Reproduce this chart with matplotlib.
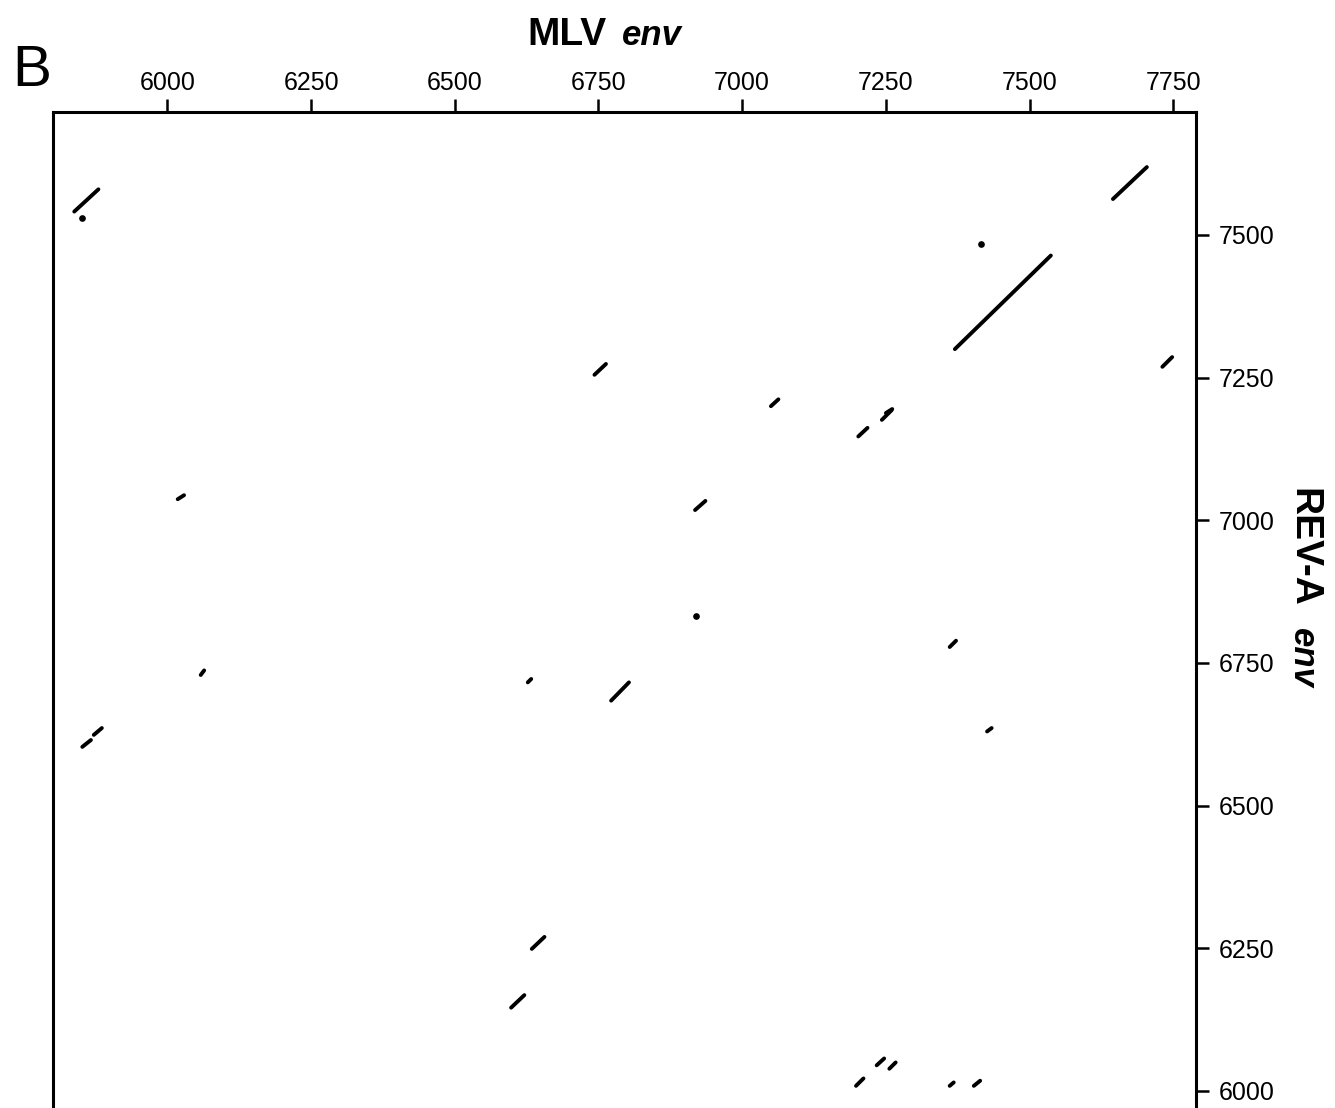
import matplotlib
matplotlib.use("Agg")
import matplotlib.pyplot as plt

plt.rcParams['font.family'] = ['Liberation Sans', 'DejaVu Sans']

# dot plot segments: MLV env (x) vs REV-A env (y)
seg_x0 = [5838, 7645, 7370, 7731, 6743, 7050, 7202, 7243, 7250, 6018, 6918, 7361, 6058, 6627,
          6772, 5852, 5872, 7426, 6634, 6598, 7198, 7234, 7256, 7361, 7403]
seg_x1 = [5880, 7704, 7537, 7748, 6763, 7063, 7218, 7260, 7261, 6029, 6936, 7372, 6064, 6633,
          6803, 5867, 5886, 7434, 6656, 6621, 7211, 7247, 7267, 7368, 7414]
seg_y0 = [7541, 7563, 7300, 7269, 7255, 7200, 7147, 7176, 7188, 7037, 7018, 6778, 6729, 6716,
          6684, 6603, 6624, 6630, 6249, 6146, 6009, 6045, 6039, 6009, 6009]
seg_y1 = [7580, 7619, 7464, 7286, 7274, 7212, 7162, 7193, 7195, 7044, 7034, 6789, 6737, 6722,
          6716, 6615, 6636, 6636, 6270, 6168, 6022, 6057, 6050, 6015, 6018]

dot_x = [5852, 7415, 6920]
dot_y = [7529, 7484, 6832]

ticks = [6000, 6250, 6500, 6750, 7000, 7250, 7500, 7750]
yticks = [6000, 6250, 6500, 6750, 7000, 7250, 7500]

W, H = 1335, 1108
fig = plt.figure(figsize=(W / 100, H / 100), dpi=100)
ax = fig.add_axes([52.7 / W, 0, (1196 - 52.7) / W, (H - 112) / H])

for i in range(len(seg_x0)):
    ax.plot([seg_x0[i], seg_x1[i]], [seg_y0[i], seg_y1[i]], color='black',
            lw=2.8, solid_capstyle='round')
ax.plot(dot_x, dot_y, 'o', color='black', ms=3.8)

ax.set_xlim(5800.5, 7789.5)
ax.set_ylim(5970.2, 7715.5)

ax.spines['bottom'].set_visible(False)
for s in ['top', 'left', 'right']:
    ax.spines[s].set_linewidth(2.2)

ax.xaxis.tick_top()
ax.yaxis.tick_right()
ax.set_xticks(ticks)
ax.set_yticks(yticks)
ax.tick_params(axis='x', top=True, bottom=False, direction='out', length=9.5,
               width=1.8, pad=3, labelsize=18)
ax.tick_params(axis='y', right=True, left=False, direction='out', length=9.5,
               width=1.8, pad=7, labelsize=18)

# titles
fig.text(607 / W, 1 - 45 / H, "MLV", ha='right', va='baseline', fontsize=28,
         fontweight='bold')
fig.text(622 / W, 1 - 45 / H, "env", ha='left', va='baseline', fontsize=25,
         fontweight='bold', style='italic')
fig.text(12 / W, 1 - 86 / H, "B", ha='left', va='baseline', fontsize=42)

fig.text(1293 / W, 1 - 488 / H, "REV-A", rotation=270, rotation_mode='anchor',
         ha='left', va='baseline', fontsize=28, fontweight='bold')
fig.text(1293 / W, 1 - 628 / H, "env", rotation=270, rotation_mode='anchor',
         ha='left', va='baseline', fontsize=25, fontweight='bold', style='italic')

fig.savefig("out.png", dpi=100)
